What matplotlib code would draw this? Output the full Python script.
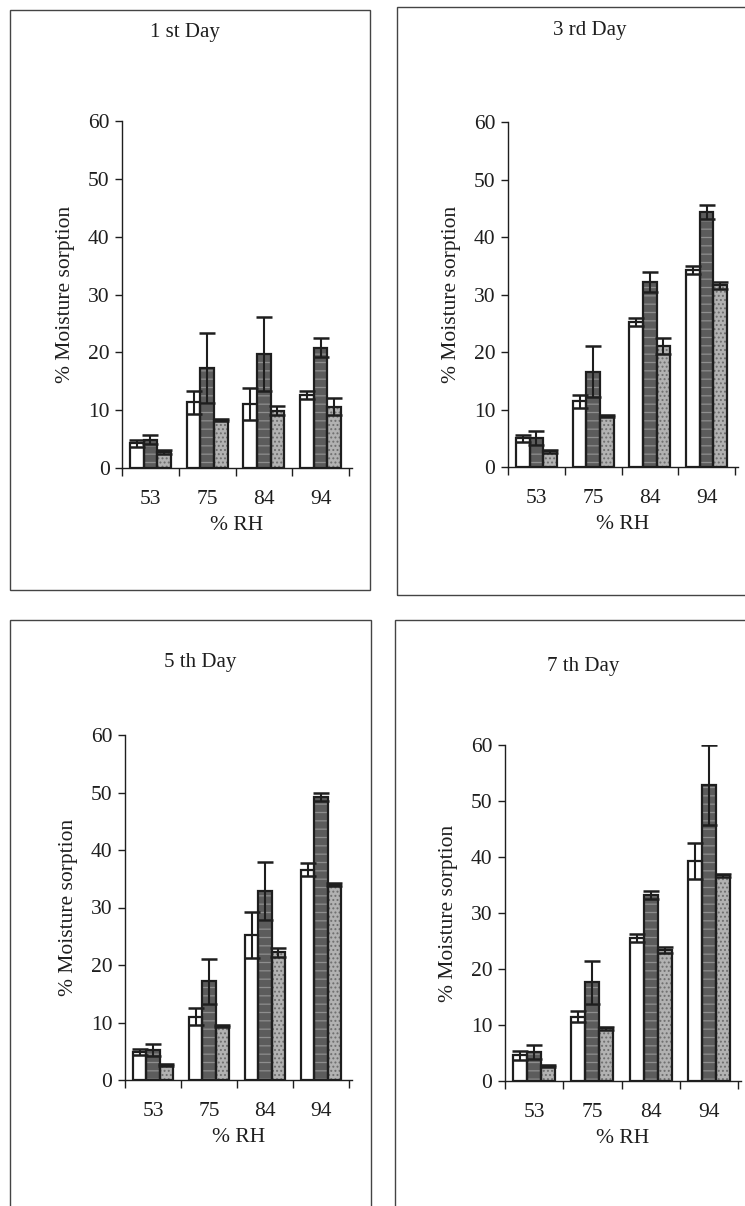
import matplotlib

matplotlib.use("Agg")
import matplotlib.pyplot as plt
import numpy as np
from matplotlib.patches import Rectangle

plt.rcParams["font.family"] = ["Liberation Serif", "DejaVu Serif"]
plt.rcParams["hatch.linewidth"] = 0.9

W, H = 745, 1206

rh_labels = ["53", "75", "84", "94"]
titles = ["1 st Day", "3 rd Day", "5 th Day", "7 th Day"]

# mean moisture sorption (%) per %RH, one row per formulation
day1_means = [[4.3, 11.4, 11.1, 12.7], [4.9, 17.3, 19.7, 20.8], [2.8, 8.3, 9.9, 10.6]]
day1_errs = [[0.6, 2.0, 2.8, 0.7], [0.8, 6.1, 6.4, 1.6], [0.3, 0.2, 0.8, 1.5]]

day3_means = [[5.0, 11.4, 25.2, 34.3], [5.0, 16.6, 32.2, 44.3], [2.7, 8.9, 21.0, 31.6]]
day3_errs = [[0.6, 1.2, 0.7, 0.7], [1.2, 4.4, 1.8, 1.2], [0.3, 0.2, 1.4, 0.6]]

day5_means = [[4.9, 11.0, 25.2, 36.6], [5.2, 17.2, 32.9, 49.2], [2.6, 9.4, 22.2, 34.0]]
day5_errs = [[0.5, 1.5, 4.0, 1.1], [1.0, 3.9, 5.1, 0.7], [0.2, 0.2, 0.8, 0.3]]

day7_means = [[4.6, 11.5, 25.5, 39.3], [5.2, 17.6, 33.2, 52.9], [2.7, 9.4, 23.4, 36.7]]
day7_errs = [[0.8, 1.0, 0.7, 3.2], [1.2, 3.9, 0.7, 7.1], [0.2, 0.3, 0.6, 0.2]]

# bar styles: (face, hatch, hatch colour)
styles = [
    ("white", None, None),
    ("#5c5c5c", "--", "#8e8e8e"),
    ("#b2b2b2", "....", "#6e6e6e"),
]

# panel layout in pixels: frame box, y-axis x, x-axis y, 60-line y, px per category
panels = [
    dict(box=(10, 10, 370, 590), x0=122, y0=468, y60=121, step=56.75, title=(185, 33)),
    dict(box=(397, 7, 760, 595), x0=508, y0=467, y60=122, step=56.75, title=(590, 30)),
    dict(box=(10, 620, 371, 1230), x0=125, y0=1080, y60=735, step=56.0, title=(200, 663)),
    dict(box=(395, 620, 760, 1230), x0=505, y0=1081, y60=745, step=58.25, title=(583, 666)),
]

data = [(day1_means, day1_errs), (day3_means, day3_errs),
        (day5_means, day5_errs), (day7_means, day7_errs)]

fig = plt.figure(figsize=(W / 100, H / 100), dpi=100)
fig.patch.set_facecolor("white")
ink = "#1e1e1e"

for p, (means, errs), title in zip(panels, data, titles):
    x1, y1, x2, y2 = p["box"]
    fig.patches.append(Rectangle((x1 / W, 1 - y2 / H), (x2 - x1) / W, (y2 - y1) / H,
                                 transform=fig.transFigure, fill=False,
                                 edgecolor="#444444", linewidth=1.0))
    fig.text(p["title"][0] / W, 1 - p["title"][1] / H, title, ha="center", va="center",
             fontsize=15, color=ink)

    step = p["step"]
    xmax = 3.5 + 3 / step
    width_px = (xmax + 0.5) * step
    ax = fig.add_axes([p["x0"] / W, 1 - p["y0"] / H, width_px / W, (p["y0"] - p["y60"]) / H])
    ax.set_facecolor("none")

    x = np.arange(len(rh_labels))
    bw = 0.24
    for i, (face, hatch, hcol) in enumerate(styles):
        pos = x + (i - 1) * bw
        if hatch:
            ax.bar(pos, means[i], bw, color=face, edgecolor=hcol, hatch=hatch, linewidth=0, zorder=2)
        else:
            ax.bar(pos, means[i], bw, color=face, linewidth=0, zorder=2)
        ax.bar(pos, means[i], bw, fill=False, edgecolor=ink, linewidth=1.6, zorder=3)
        ax.errorbar(pos, means[i], yerr=errs[i], fmt="none", ecolor=ink,
                    elinewidth=1.5, capsize=5.5, capthick=1.8, zorder=4)

    ax.set_xlim(-0.5, xmax)
    ax.set_ylim(0, 60)
    ax.set_yticks(np.arange(0, 61, 10))
    ax.set_xticks(np.arange(-0.5, 4, 1.0))
    ax.set_xticklabels([])
    ax.set_xticks(x, minor=True)
    ax.set_xticklabels(rh_labels, minor=True)
    ax.tick_params(axis="x", which="major", direction="out", length=6, width=1.0, color=ink)
    ax.tick_params(axis="x", which="minor", length=0, pad=16, labelsize=15.5, labelcolor=ink)
    ax.tick_params(axis="y", direction="out", length=5, width=1.0, color=ink,
                   labelsize=15.5, labelcolor=ink, pad=4)
    for side in ("top", "right"):
        ax.spines[side].set_visible(False)
    for side in ("left", "bottom"):
        ax.spines[side].set_color(ink)
        ax.spines[side].set_linewidth(1.0)

    ax.set_xlabel("% RH", fontsize=15.5, color=ink, labelpad=5)
    ax.set_ylabel("% Moisture sorption", fontsize=15.5, color=ink, labelpad=9)

fig.savefig("out.png", dpi=100, facecolor="white")
